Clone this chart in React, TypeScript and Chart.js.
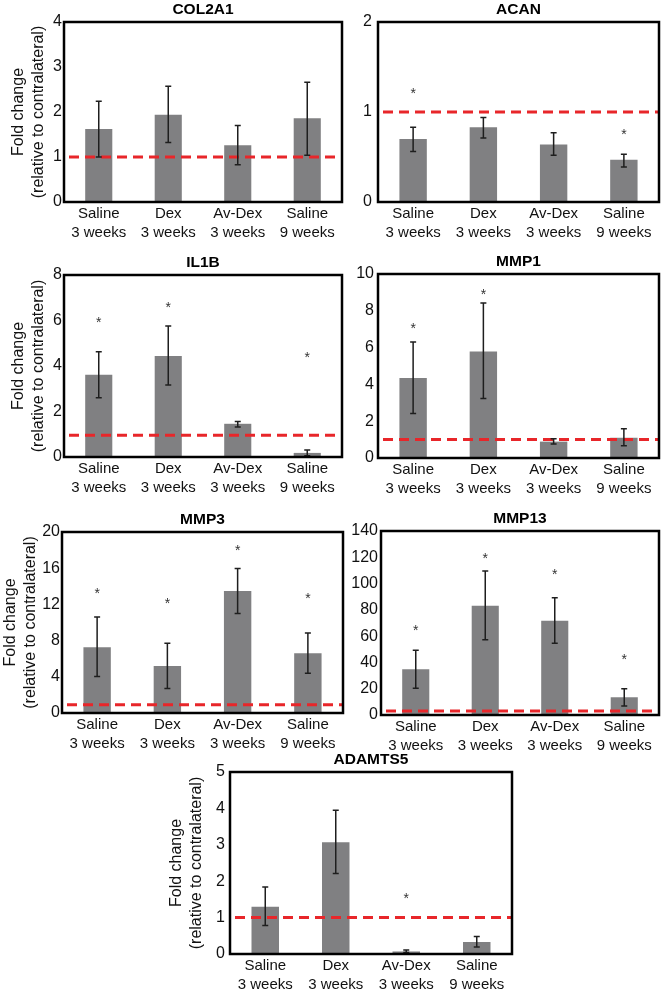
import React, { useEffect, useRef } from 'react';
import { Chart, registerables } from 'chart.js';

Chart.register(...registerables);

// ---------- data ----------
const categories = [
  ['Saline', '3 weeks'],
  ['Dex', '3 weeks'],
  ['Av-Dex', '3 weeks'],
  ['Saline', '9 weeks'],
];
const yAxisTitle = ['Fold change', '(relative to contralateral)'];

const col2a1Mean = [1.62, 1.94, 1.26, 1.86];
const col2a1Hi = [2.24, 2.57, 1.70, 2.66];
const col2a1Lo = [1.0, 1.32, 0.83, 1.04];
const col2a1Star = [null, null, null, null];
const col2a1Ref = 1.0;

const acanMean = [0.70, 0.83, 0.64, 0.47];
const acanHi = [0.83, 0.94, 0.77, 0.53];
const acanLo = [0.56, 0.71, 0.52, 0.39];
const acanStar = [1.24, null, null, 0.79];
const acanRef = 1.0;

const il1bMean = [3.61, 4.44, 1.46, 0.18];
const il1bHi = [4.63, 5.76, 1.56, 0.31];
const il1bLo = [2.60, 3.16, 1.32, 0.06];
const il1bStar = [6.07, 6.71, null, 4.54];
const il1bRef = 0.96;

const mmp1Mean = [4.35, 5.79, 0.89, 1.10];
const mmp1Hi = [6.30, 8.42, 1.05, 1.59];
const mmp1Lo = [2.42, 3.24, 0.76, 0.67];
const mmp1Star = [7.24, 9.05, null, null];
const mmp1Ref = 1.0;

const mmp3Mean = [7.27, 5.18, 13.47, 6.61];
const mmp3Hi = [10.6, 7.71, 15.97, 8.84];
const mmp3Lo = [4.04, 2.72, 11.0, 4.40];
const mmp3Star = [13.6, 12.5, 18.35, 13.06];
const mmp3Ref = 0.9;

const mmp13Mean = [34.8, 83.2, 71.8, 13.5];
const mmp13Hi = [49.2, 109.6, 89.3, 20.0];
const mmp13Lo = [20.3, 57.3, 54.6, 6.85];
const mmp13Star = [67, 122, 109.6, 45];
const mmp13Ref = 3.0;

const adamts5Mean = [1.30, 3.07, 0.07, 0.33];
const adamts5Hi = [1.84, 3.95, 0.11, 0.48];
const adamts5Lo = [0.78, 2.21, 0.04, 0.19];
const adamts5Star = [null, null, 1.63, null];
const adamts5Ref = 1.0;

// ---------- layout / style ----------
const FONT = '"Liberation Sans", Arial, Helvetica, sans-serif';
const BAR = '#808082';

type Panel = {
  title: string;
  mean: number[];
  hi: number[];
  lo: number[];
  stars: (number | null)[];
  ref: number;
  max: number;
  step: number;
  box: [number, number, number, number];
  canvasLeft: number;
  yTitleCenter: number | null;
  tickPad: number;
};

// ADAMTS5 first so the panels above sit on top of it in stacking order
const panels: Panel[] = [
  { title: 'ADAMTS5', mean: adamts5Mean, hi: adamts5Hi, lo: adamts5Lo, stars: adamts5Star, ref: adamts5Ref, max: 5, step: 1, box: [230, 772, 512, 954], canvasLeft: 160, yTitleCenter: 177, tickPad: 5 },
  { title: 'COL2A1', mean: col2a1Mean, hi: col2a1Hi, lo: col2a1Lo, stars: col2a1Star, ref: col2a1Ref, max: 4, step: 1, box: [64, 22, 342, 202], canvasLeft: 0, yTitleCenter: 19, tickPad: 2 },
  { title: 'ACAN', mean: acanMean, hi: acanHi, lo: acanLo, stars: acanStar, ref: acanRef, max: 2, step: 1, box: [378, 22, 659, 202], canvasLeft: 344, yTitleCenter: null, tickPad: 6 },
  { title: 'IL1B', mean: il1bMean, hi: il1bHi, lo: il1bLo, stars: il1bStar, ref: il1bRef, max: 8, step: 2, box: [64, 275, 342, 457], canvasLeft: 0, yTitleCenter: 19, tickPad: 2 },
  { title: 'MMP1', mean: mmp1Mean, hi: mmp1Hi, lo: mmp1Lo, stars: mmp1Star, ref: mmp1Ref, max: 10, step: 2, box: [378, 274, 659, 458], canvasLeft: 344, yTitleCenter: null, tickPad: 4 },
  { title: 'MMP3', mean: mmp3Mean, hi: mmp3Hi, lo: mmp3Lo, stars: mmp3Star, ref: mmp3Ref, max: 20, step: 4, box: [62, 532, 343, 713], canvasLeft: 0, yTitleCenter: 11, tickPad: 2 },
  { title: 'MMP13', mean: mmp13Mean, hi: mmp13Hi, lo: mmp13Lo, stars: mmp13Star, ref: mmp13Ref, max: 140, step: 20, box: [381, 531, 659, 715], canvasLeft: 344, yTitleCenter: null, tickPad: 3 },
];

const T = 22;
const B = 48;
const R = 2;

const overlay = (p: Panel) => ({
  id: 'overlay',
  afterDatasetsDraw(chart: any) {
    const { ctx, chartArea: a, scales } = chart;
    const x = scales.x;
    const y = scales.y;
    ctx.save();
    // reference line
    const ry = y.getPixelForValue(p.ref);
    ctx.beginPath();
    ctx.setLineDash([10, 6]);
    ctx.lineWidth = 3;
    ctx.strokeStyle = '#e8262a';
    ctx.moveTo(a.left + 5, ry);
    ctx.lineTo(a.right, ry);
    ctx.stroke();
    ctx.setLineDash([]);
    // error bars
    ctx.strokeStyle = '#1e1e1e';
    ctx.lineWidth = 1.5;
    p.mean.forEach((_, i) => {
      const cx = x.getPixelForValue(i);
      const yh = y.getPixelForValue(p.hi[i]);
      const yl = y.getPixelForValue(p.lo[i]);
      ctx.beginPath();
      ctx.moveTo(cx, yh);
      ctx.lineTo(cx, yl);
      ctx.moveTo(cx - 3, yh);
      ctx.lineTo(cx + 3, yh);
      ctx.moveTo(cx - 3, yl);
      ctx.lineTo(cx + 3, yl);
      ctx.stroke();
    });
    // significance stars
    ctx.fillStyle = '#333';
    ctx.font = `14px ${FONT}`;
    ctx.textAlign = 'center';
    ctx.textBaseline = 'alphabetic';
    p.stars.forEach((s, i) => {
      if (s == null) return;
      ctx.fillText('*', x.getPixelForValue(i), y.getPixelForValue(s) + 8);
    });
    // frame
    ctx.lineWidth = 2.5;
    ctx.strokeStyle = '#000';
    ctx.strokeRect(a.left, a.top, a.right - a.left, a.bottom - a.top);
    // title
    ctx.fillStyle = '#000';
    ctx.font = `bold 15.5px ${FONT}`;
    ctx.textBaseline = 'middle';
    ctx.fillText(p.title, (a.left + a.right) / 2, a.top - 12);
    ctx.restore();
  },
});

function PanelChart({ p }: { p: Panel }) {
  const ref = useRef<HTMLCanvasElement | null>(null);
  const [x0, y0, x1, y1] = p.box;
  const L = x0 - p.canvasLeft;
  const W = L + (x1 - x0) + R;
  const H = T + (y1 - y0) + B;

  useEffect(() => {
    const canvas = ref.current;
    if (!canvas) return;
    const titleLH = 16 * 1.2;
    const chart = new Chart(canvas, {
      type: 'bar',
      data: {
        labels: categories,
        datasets: [
          {
            data: p.mean,
            backgroundColor: BAR,
            borderWidth: 0,
            barPercentage: 0.39,
            categoryPercentage: 1,
          },
        ],
      },
      options: {
        animation: false,
        responsive: false,
        devicePixelRatio: 1,
        layout: { padding: { top: T, right: R, bottom: 0, left: 0 } },
        plugins: { legend: { display: false }, tooltip: { enabled: false }, title: { display: false } },
        scales: {
          x: {
            grid: { display: false, drawTicks: false },
            border: { display: false },
            ticks: {
              color: '#111',
              padding: 2,
              maxRotation: 0,
              autoSkip: false,
              font: { family: FONT, size: 15, lineHeight: 1.3 },
            },
            afterFit: (s: any) => {
              s.height = B;
            },
          },
          y: {
            min: 0,
            max: p.max,
            grid: { display: false, drawTicks: false },
            border: { display: false },
            ticks: {
              stepSize: p.step,
              color: '#111',
              padding: p.tickPad,
              font: { family: FONT, size: 16 },
            },
            title: {
              display: p.yTitleCenter != null,
              text: yAxisTitle,
              color: '#111',
              font: { family: FONT, size: 16, lineHeight: 1.2 },
              padding: {
                top: p.yTitleCenter != null ? p.yTitleCenter - p.canvasLeft - titleLH / 2 : 0,
                bottom: 0,
              },
            },
            afterFit: (s: any) => {
              s.width = L;
            },
          },
        },
      } as any,
      plugins: [overlay(p)],
    });
    return () => chart.destroy();
  }, []);

  return (
    <canvas
      ref={ref}
      width={W}
      height={H}
      style={{ position: 'absolute', left: p.canvasLeft, top: y0 - T, width: W, height: H }}
    />
  );
}

export default function App() {
  return (
    <div style={{ position: 'absolute', left: 0, top: 0, width: 662, height: 990, background: '#fff', overflow: 'hidden' }}>
      {panels.map((p) => (
        <PanelChart key={p.title} p={p} />
      ))}
    </div>
  );
}
